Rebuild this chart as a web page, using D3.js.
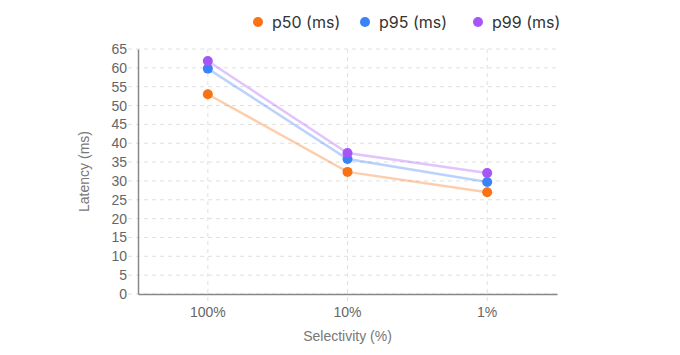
<!DOCTYPE html>
<html><head><meta charset="utf-8">
<script src="https://cdn.jsdelivr.net/npm/d3@7"></script>
<style>
html,body{margin:0;padding:0;background:#fff;}
svg{display:block;}
</style></head>
<body>
<svg id="chart" width="680" height="355"></svg>
<script>
const categories = ["100%", "10%", "1%"];
const seriesNames = ["p50 (ms)", "p95 (ms)", "p99 (ms)"];
const p50 = [53.0, 32.4, 27.0];
const p95 = [59.8, 35.8, 29.7];
const p99 = [61.8, 37.4, 32.1];
const yTicks = [0,5,10,15,20,25,30,35,40,45,50,55,60,65];
const colors = ["#f97316", "#3b82f6", "#a855f7"];
const seriesValues = [p50, p95, p99];

const svg = d3.select("#chart");
const m = {left:138, right:123, top:49, bottom:61};
const W = 680, H = 355;
const x = d3.scaleBand().domain(categories).range([m.left, W - m.right]).padding(0);
const y = d3.scaleLinear().domain([0,65]).range([H - m.bottom, m.top]);
const font = "'Liberation Sans', Arial, sans-serif";

// horizontal grid
svg.append("g").selectAll("line").data(yTicks).join("line")
  .attr("x1", m.left - 10).attr("x2", W - m.right)
  .attr("y1", d => y(d)).attr("y2", d => y(d))
  .attr("stroke", "#e0e0e0").attr("stroke-dasharray", "4,4");
// vertical grid
svg.append("g").selectAll("line").data(categories).join("line")
  .attr("x1", d => x(d) + x.bandwidth()/2).attr("x2", d => x(d) + x.bandwidth()/2)
  .attr("y1", m.top).attr("y2", H - m.bottom + 10)
  .attr("stroke", "#e0e0e0").attr("stroke-dasharray", "4,4");

// y axis
const ya = svg.append("g").attr("transform", `translate(${m.left},0)`)
  .call(d3.axisLeft(y).tickValues(yTicks).tickSize(0).tickPadding(11));
ya.select(".domain").attr("stroke", "#888").attr("stroke-width", 1.5);
ya.selectAll("text").attr("font-family", font).attr("font-size", 14).attr("fill", "#666");

// x axis
const xa = svg.append("g").attr("transform", `translate(0,${H - m.bottom})`)
  .call(d3.axisBottom(x).tickSize(0).tickPadding(13));
xa.select(".domain").attr("stroke", "#888").attr("stroke-width", 1.5);
xa.selectAll("text").attr("font-family", font).attr("font-size", 14).attr("fill", "#666");

// axis titles
svg.append("text").attr("x", (m.left + W - m.right)/2).attr("y", 341)
  .attr("text-anchor", "middle").attr("font-family", font).attr("font-size", 14)
  .attr("fill", "#777").text("Selectivity (%)");
svg.append("text").attr("transform", `translate(89,${(m.top + H - m.bottom)/2}) rotate(-90)`)
  .attr("text-anchor", "middle").attr("font-family", font).attr("font-size", 14)
  .attr("fill", "#777").text("Latency (ms)");

// lines + points
const cx = d => x(d) + x.bandwidth()/2;
const line = d3.line().x((v,i) => cx(categories[i])).y(v => y(v));
seriesValues.forEach((vals, si) => {
  svg.append("path").datum(vals).attr("d", line)
    .attr("fill", "none").attr("stroke", colors[si]).attr("stroke-opacity", 0.35).attr("stroke-width", 2.5);
});
seriesValues.forEach((vals, si) => {
  svg.append("g").selectAll("circle").data(vals).join("circle")
    .attr("cx", (v,i) => cx(categories[i])).attr("cy", v => y(v)).attr("r", 5)
    .attr("fill", colors[si]);
});

// legend
const legX = [258, 365, 478];
const leg = svg.append("g");
seriesNames.forEach((n, i) => {
  leg.append("circle").attr("cx", legX[i]).attr("cy", 22).attr("r", 5).attr("fill", colors[i]);
  leg.append("text").attr("x", legX[i] + 14).attr("y", 27.5)
    .attr("font-family", "Inter, sans-serif").attr("font-size", 16).attr("fill", "#333").text(n);
});
</script>
</body></html>
